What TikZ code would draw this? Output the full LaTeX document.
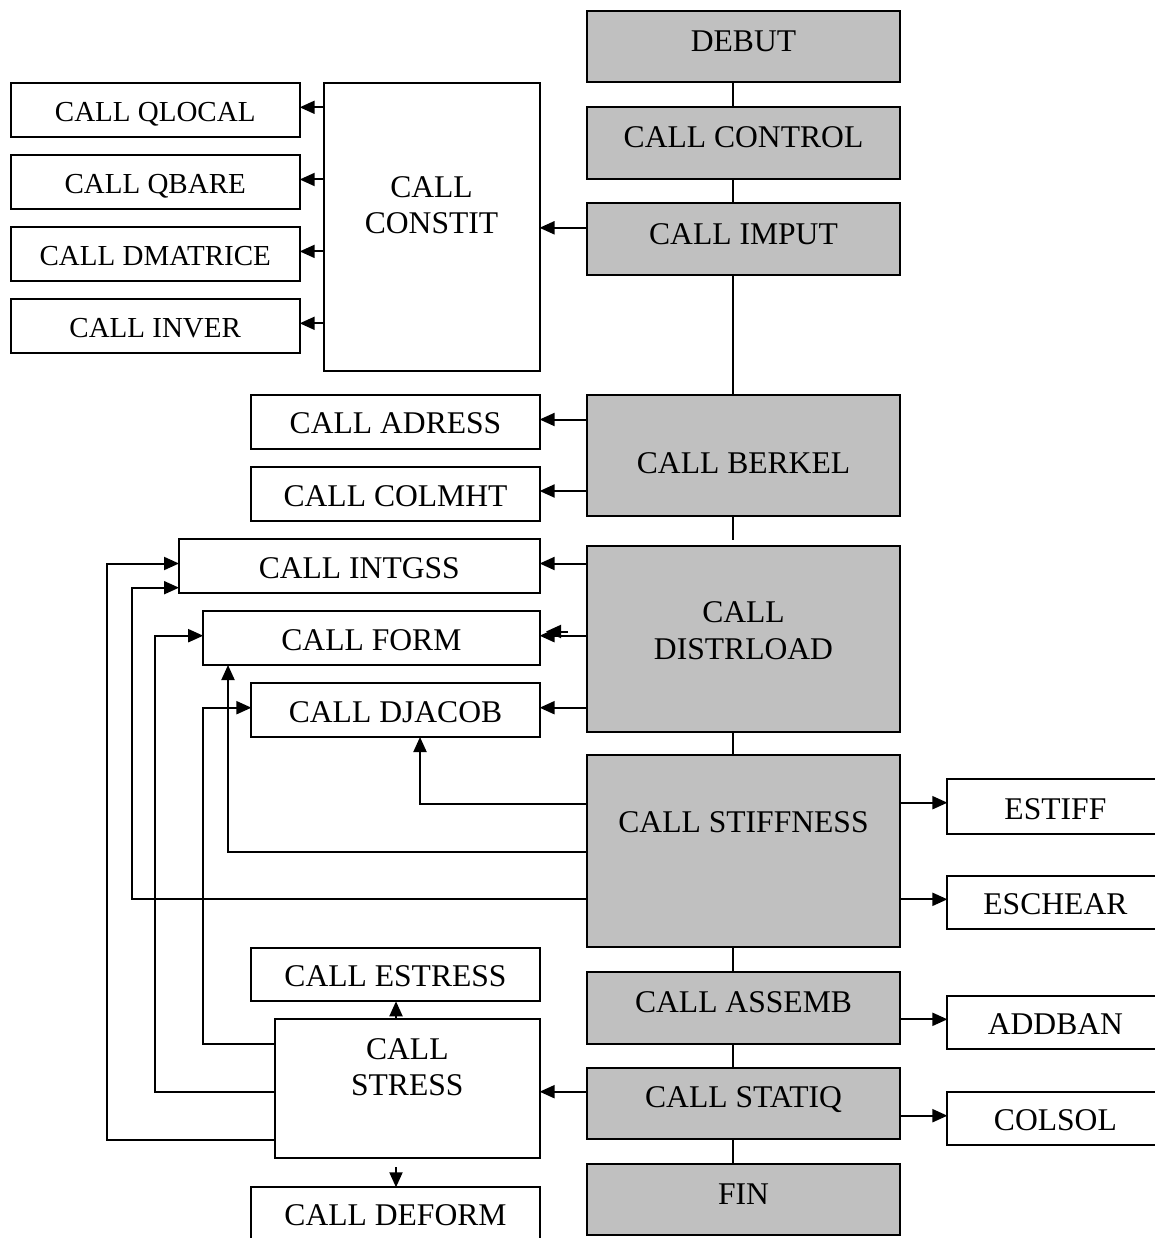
\documentclass[tikz,border=0pt]{standalone}
\usepackage{fontspec}
\setmainfont{Liberation Serif}
\usetikzlibrary{arrows.meta}
\definecolor{boxgray}{RGB}{192,192,192}
\begin{document}
\begin{tikzpicture}[x=1pt,y=-1pt,
  ln/.style={line width=2pt},
  arr/.style={ln,-{Triangle[length=15pt,width=13pt]}},
  box/.style={draw,line width=2pt,fill=white,inner sep=0pt,outer sep=0pt,anchor=north west},
  gbox/.style={box,fill=boxgray},
  bigT/.style={inner sep=0pt,font=\fontsize{31.6pt}{36.5pt}\selectfont,text height=20.9pt,text depth=0pt},
  smallT/.style={inner sep=0pt,font=\fontsize{29pt}{34pt}\selectfont,text height=19.1pt,text depth=0pt},
  twoT/.style={inner sep=0pt,align=center,font=\fontsize{31.6pt}{36.5pt}\selectfont}]
\useasboundingbox (0,0) rectangle (1155,1238);
\clip (0,0) rectangle (1155,1238);

% ---------- main column ----------
\node[gbox,minimum width=313pt,minimum height=71pt]   (debut)     at (587,11) {};
\node[gbox,minimum width=313pt,minimum height=71.5pt] (control)   at (587,107.5) {};
\node[gbox,minimum width=313pt,minimum height=71.5pt] (imput)     at (587,203.5) {};
\node[gbox,minimum width=313pt,minimum height=121pt]  (berkel)    at (587,395) {};
\node[gbox,minimum width=313pt,minimum height=186pt]  (distrload) at (587,545.5) {};
\node[gbox,minimum width=313pt,minimum height=192pt]  (stiffness) at (587,755) {};
\node[gbox,minimum width=313pt,minimum height=72pt]   (assemb)    at (587,971.5) {};
\node[gbox,minimum width=313pt,minimum height=71.5pt] (statiq)    at (587,1067.5) {};
\node[gbox,minimum width=313pt,minimum height=71.5pt] (fin)       at (587,1163.5) {};

% ---------- left boxes ----------
\node[box,minimum width=216pt,minimum height=288.5pt] (constit)  at (323.5,82.7) {};
\node[box,minimum width=289pt,minimum height=54.3pt]  (qlocal)   at (10.7,82.7) {};
\node[box,minimum width=289pt,minimum height=53.7pt]  (qbare)    at (10.7,155) {};
\node[box,minimum width=289pt,minimum height=54pt]    (dmatrice) at (10.7,226.8) {};
\node[box,minimum width=289pt,minimum height=54pt]    (inver)    at (10.7,298.7) {};
\node[box,minimum width=288.2pt,minimum height=54pt]  (adress)   at (251.4,395) {};
\node[box,minimum width=288.2pt,minimum height=53.6pt](colmht)   at (251.4,467.4) {};
\node[box,minimum width=360.6pt,minimum height=53.4pt](intgss)   at (179,539.3) {};
\node[box,minimum width=336.4pt,minimum height=54.3pt](form)     at (203.2,610.7) {};
\node[box,minimum width=288.2pt,minimum height=53.7pt](djacob)   at (251.4,683.3) {};
\node[box,minimum width=288.2pt,minimum height=53.6pt](estress)  at (251.4,947.7) {};
\node[box,minimum width=264.6pt,minimum height=138.4pt](stress)  at (275,1019.3) {};
\node[box,minimum width=288.2pt,minimum height=54pt]  (deform)   at (251.4,1187.3) {};

% ---------- right boxes ----------
\node[box,minimum width=216pt,minimum height=54.4pt] (estiff)  at (947.4,779.3) {};
\node[box,minimum width=216pt,minimum height=53.6pt] (eschear) at (947.4,875.7) {};
\node[box,minimum width=216pt,minimum height=53.3pt] (addban)  at (947.4,996) {};
\node[box,minimum width=216pt,minimum height=53.6pt] (colsol)  at (947.4,1091.7) {};

% ---------- texts ----------
\node[bigT] (tDebut)   at (743.5,41)     {DEBUT};
\node[bigT] (tControl) at (743.5,137.2)  {CALL CONTROL};
\node[bigT] (tImput)   at (743.5,234.2)  {CALL IMPUT};
\node[bigT] (tBerkel)  at (743.5,462.6)  {CALL BERKEL};
\node[twoT] (tDistr)   at (743.5,630.5)  {CALL\\DISTRLOAD};
\node[bigT] (tStiff)   at (743.5,822.2)  {CALL STIFFNESS};
\node[bigT] (tAssemb)  at (743.5,1002.5) {CALL ASSEMB};
\node[bigT] (tStatiq)  at (743.5,1097.2) {CALL STATIQ};
\node[bigT] (tFin)     at (743.5,1193.8) {FIN};

\node[twoT]   (tConstit) at (431.5,205.2) {CALL\\CONSTIT};
\node[smallT] (tQlocal)  at (155.2,112.4) {CALL QLOCAL};
\node[smallT] (tQbare)   at (155.2,183.8) {CALL QBARE};
\node[smallT] (tDmat)    at (155.2,255.8) {CALL DMATRICE};
\node[smallT] (tInver)   at (155.2,327.7) {CALL INVER};
\node[bigT] (tAdress)  at (395.5,423.4) {CALL ADRESS};
\node[bigT] (tColmht)  at (395.5,496.2) {CALL COLMHT};
\node[bigT] (tIntgss)  at (359.3,568.3) {CALL INTGSS};
\node[bigT] (tForm)    at (371.4,640.2) {CALL FORM};
\node[bigT] (tDjacob)  at (395.5,712.5) {CALL DJACOB};
\node[bigT] (tEstress) at (395.5,976.3) {CALL ESTRESS};
\node[twoT] (tStress)  at (407.3,1067)  {CALL\\STRESS};
\node[bigT] (tDeform)  at (395.5,1215)  {CALL DEFORM};

\node[bigT] (tEstiff)  at (1055.4,808.7)  {ESTIFF};
\node[bigT] (tEschear) at (1055.4,904.5)  {ESCHEAR};
\node[bigT] (tAddban)  at (1055.4,1024.5) {ADDBAN};
\node[bigT] (tColsol)  at (1055.4,1120.5) {COLSOL};

% ---------- helper coordinates ----------
\coordinate (sp) at (733,0);
\coordinate (hQL) at (0,107.3);
\coordinate (hQB) at (0,179.5);
\coordinate (hDM) at (0,251.4);
\coordinate (hIN) at (0,323.3);
\coordinate (hIM) at (0,227.8);
\coordinate (hAD) at (0,419.5);
\coordinate (hCM) at (0,491);
\coordinate (hIG) at (0,563.5);
\coordinate (hIG2) at (0,587.7);
\coordinate (hFO) at (0,635.7);
\coordinate (hDJ) at (0,707.7);
\coordinate (hES) at (0,802.7);
\coordinate (hS1) at (0,803.5);
\coordinate (hS2) at (0,851.7);
\coordinate (hS3) at (0,899.3);
\coordinate (hAB) at (0,1019.3);
\coordinate (hST) at (0,1091.7);
\coordinate (hCS) at (0,1115.7);
\coordinate (hR1) at (0,1043.7);
\coordinate (hR3) at (0,1139.7);
\coordinate (vDJ) at (420,0);
\coordinate (vFO) at (228,0);
\coordinate (vIG2) at (131.6,0);
\coordinate (vA) at (203.2,0);
\coordinate (vB) at (155,0);
\coordinate (vC) at (107.2,0);
\coordinate (vE) at (396,0);
\coordinate (dTop) at (396,1167);
\coordinate (gA) at (568,631.5);
\coordinate (gB) at (546,631.5);

% ---------- spine ----------
\draw[ln] (debut.south -| sp) -- (control.north -| sp);
\draw[ln] (control.south -| sp) -- (imput.north -| sp);
\draw[ln] (imput.south -| sp) -- (berkel.north -| sp);
\draw[ln,shorten >=6pt] (berkel.south -| sp) -- (distrload.north -| sp);
\draw[ln] (distrload.south -| sp) -- (stiffness.north -| sp);
\draw[ln] (stiffness.south -| sp) -- (assemb.north -| sp);
\draw[ln] (assemb.south -| sp) -- (statiq.north -| sp);
\draw[ln] (statiq.south -| sp) -- (fin.north -| sp);

% ---------- horizontal arrows ----------
\draw[arr] (constit.west |- hQL) -- (qlocal.east |- hQL);
\draw[arr] (constit.west |- hQB) -- (qbare.east |- hQB);
\draw[arr] (constit.west |- hDM) -- (dmatrice.east |- hDM);
\draw[arr] (constit.west |- hIN) -- (inver.east |- hIN);
\draw[arr] (imput.west |- hIM) -- (constit.east |- hIM);
\draw[arr] (berkel.west |- hAD) -- (adress.east |- hAD);
\draw[arr] (berkel.west |- hCM) -- (colmht.east |- hCM);
\draw[arr] (distrload.west |- hIG) -- (intgss.east |- hIG);
\draw[arr] (distrload.west |- hFO) -- (form.east |- hFO);
\draw[arr] (gA) -- (gB);
\draw[arr] (distrload.west |- hDJ) -- (djacob.east |- hDJ);
\draw[arr] (stiffness.east |- hES) -- (estiff.west |- hES);
\draw[arr] (stiffness.east |- hS3) -- (eschear.west |- hS3);
\draw[arr] (assemb.east |- hAB) -- (addban.west |- hAB);
\draw[arr] (statiq.east |- hCS) -- (colsol.west |- hCS);
\draw[arr] (statiq.west |- hST) -- (stress.east |- hST);

% ---------- stiffness feedback ----------
\draw[arr] (stiffness.west |- hS1) -| (djacob.south -| vDJ);
\draw[arr] (stiffness.west |- hS2) -| (form.south -| vFO);
\draw[arr] (stiffness.west |- hS3) -| (vIG2 |- hIG2) -- (intgss.west |- hIG2);

% ---------- stress feedback ----------
\draw[arr] (stress.west |- hR1) -| (vA |- hDJ) -- (djacob.west |- hDJ);
\draw[arr] (stress.west |- hST) -| (vB |- hFO) -- (form.west |- hFO);
\draw[arr] (stress.west |- hR3) -| (vC |- hIG) -- (intgss.west |- hIG);

\draw[arr] (stress.north -| vE) -- (estress.south -| vE);
\draw[arr] (dTop) -- (deform.north -| dTop);
\end{tikzpicture}
\end{document}
